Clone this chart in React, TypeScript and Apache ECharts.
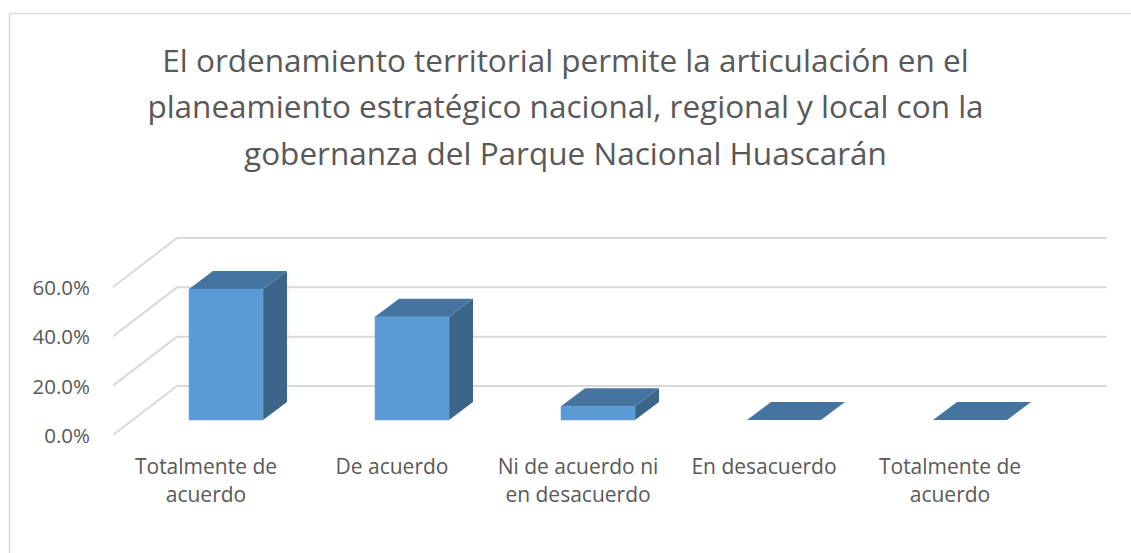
import React, { useEffect, useRef } from "react";
import * as echarts from "echarts";

const titleText =
  "El ordenamiento territorial permite la articulación en el\nplaneamiento estratégico nacional, regional y local con la\ngobernanza del Parque Nacional Huascarán";
const categories = [
  "Totalmente de\nacuerdo",
  "De acuerdo",
  "Ni de acuerdo ni\nen desacuerdo",
  "En desacuerdo",
  "Totalmente de\nacuerdo",
];
const values = [53.1, 41.9, 5.6, 0, 0];
const yTicks = [0, 20, 40, 60];

const FONT = "'Open Sans', 'Noto Sans', sans-serif";
const TEXT = "#595959";
const FRONT = "#5B9BD5";
const TOP = "#44749F";
const SIDE = "#3B6589";
const GRID = "#D9D9D9";

// 3D projection offsets
const FLOOR_DX = 64;
const FLOOR_DY = -49;
const BAR_FRONT_DX = 20;
const BAR_FRONT_DY = -15;
const BAR_DEPTH_DX = 24;
const BAR_DEPTH_DY = -18;
const BAR_W = 74;

export default function App() {
  const ref = useRef<HTMLDivElement>(null);
  useEffect(() => {
    if (!ref.current) return;
    const chart = echarts.init(ref.current, undefined, { renderer: "svg" });
    chart.setOption({
      animation: false,
      backgroundColor: "#ffffff",
      title: {
        text: titleText,
        left: "center",
        top: 31,
        textStyle: {
          fontFamily: FONT,
          fontSize: 31.5,
          fontWeight: "normal",
          color: TEXT,
          lineHeight: 46.5,
        },
      },
      graphic: [
        {
          type: "rect",
          shape: { x: 9.5, y: 13.5, width: 1200, height: 600 },
          style: { fill: "none", stroke: GRID, lineWidth: 1.5 },
          silent: true,
          z: -10,
        },
      ],
      grid: { left: 113, right: 88, top: 287, bottom: 118 },
      xAxis: {
        type: "category",
        data: categories,
        axisLine: { show: false },
        axisTick: { show: false },
        axisLabel: {
          margin: 17,
          interval: 0,
          fontFamily: FONT,
          fontSize: 21,
          color: TEXT,
          lineHeight: 28,
        },
      },
      yAxis: {
        type: "value",
        min: 0,
        max: 60,
        interval: 20,
        axisLine: { show: false },
        axisTick: { show: false },
        splitLine: { show: false },
        axisLabel: {
          margin: 23,
          fontFamily: FONT,
          fontSize: 20.5,
          color: TEXT,
          formatter: (v: number) => v.toFixed(1) + "%",
        },
      },
      series: [
        {
          type: "custom",
          clip: false,
          z: 1,
          data: yTicks.map((v) => [0, v]),
          renderItem: (params: any, api: any) => {
            const v = api.value(1);
            const p = api.coord([0, v]);
            const x0 = params.coordSys.x;
            const w = params.coordSys.width;
            return {
              type: "polyline",
              shape: {
                points: [
                  [x0, p[1]],
                  [x0 + FLOOR_DX, p[1] + FLOOR_DY],
                  [x0 + FLOOR_DX + w, p[1] + FLOOR_DY],
                ],
              },
              style: { fill: "none", stroke: GRID, lineWidth: 2 },
              silent: true,
            };
          },
        },
        {
          type: "custom",
          clip: false,
          z: 2,
          data: values.map((v, i) => [i, v]),
          renderItem: (params: any, api: any) => {
            const i = api.value(0);
            const v = api.value(1);
            const b = api.coord([i, 0]);
            const t = api.coord([i, v]);
            const cx = b[0] + BAR_FRONT_DX;
            const x1 = cx - BAR_W / 2;
            const x2 = cx + BAR_W / 2;
            const yb = b[1] + BAR_FRONT_DY;
            const yt = t[1] + BAR_FRONT_DY;
            const children: any[] = [];
            if (yb - yt > 0.5) {
              children.push({
                type: "polygon",
                shape: {
                  points: [
                    [x2, yt],
                    [x2 + BAR_DEPTH_DX, yt + BAR_DEPTH_DY],
                    [x2 + BAR_DEPTH_DX, yb + BAR_DEPTH_DY],
                    [x2, yb],
                  ],
                },
                style: { fill: SIDE },
              });
              children.push({
                type: "rect",
                shape: { x: x1, y: yt, width: BAR_W, height: yb - yt },
                style: { fill: FRONT, stroke: "#6FA8DC", lineWidth: 0.6 },
              });
            }
            children.push({
              type: "polygon",
              shape: {
                points: [
                  [x1, yt],
                  [x2, yt],
                  [x2 + BAR_DEPTH_DX, yt + BAR_DEPTH_DY],
                  [x1 + BAR_DEPTH_DX, yt + BAR_DEPTH_DY],
                ],
              },
              style: { fill: TOP },
            });
            return { type: "group", children };
          },
        },
      ],
    });
    return () => chart.dispose();
  }, []);
  return (
    <div
      ref={ref}
      style={{ position: "absolute", left: 0, top: 0, width: 1131, height: 553 }}
    />
  );
}
